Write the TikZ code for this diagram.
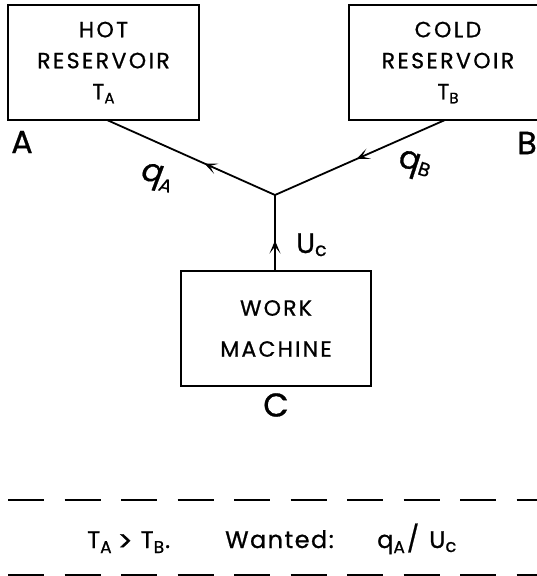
\documentclass[tikz,border=0pt]{standalone}
\usepackage{fontspec}
\setmainfont{Poppins}[FakeBold=0.8]
\usetikzlibrary{arrows.meta,decorations.markings}
\tikzset{
  boxnode/.style={draw,line width=1.8pt,minimum height=115pt,inner sep=0pt,align=center,font=\fontsize{22}{31}\selectfont\addfontfeatures{LetterSpace=11}},
  flow/.style={line width=1.8pt},
  midarrow/.style={postaction={decorate},decoration={markings,mark=at position #1 with {\arrow{Stealth[length=13pt,width=11pt,inset=7pt]}}}},
  biglabel/.style={font=\fontsize{32}{34}\selectfont,inner sep=0pt},
  qlabel/.style={font=\fontsize{32}{34}\selectfont,inner sep=0pt},
  eqtext/.style={font=\fontsize{24}{26}\selectfont\addfontfeatures{LetterSpace=6},inner sep=0pt,anchor=base west},
  sep/.style={line width=2pt,dash pattern=on 36pt off 20.5pt}
}
\begin{document}
\begin{tikzpicture}[x=1pt,y=-1pt]
\useasboundingbox (0,0) rectangle (537,576);
\node[boxnode,minimum width=191pt] (hot) at (103.5,62.5) {HOT\\RESERVOIR\\T\raisebox{-4pt}{\fontsize{15}{15}\selectfont A}};
\node[boxnode,minimum width=198pt,text width=198pt] (cold) at (448,62.5) {COLD\\RESERVOIR\\T\raisebox{-4pt}{\fontsize{15}{15}\selectfont B}};
\node[boxnode,minimum width=190pt,font=\fontsize{22}{41}\selectfont\addfontfeatures{LetterSpace=10}] (work) at (276,328.5) {WORK\\MACHINE};
\coordinate (j) at (275,195);
\coordinate (ha) at (107,120);
\coordinate (cb) at (445,120);
\coordinate (wt) at (275,271);
\draw[flow,midarrow=0.42] (j) -- (ha);
\draw[flow,midarrow=0.52] (cb) -- (j);
\draw[flow,midarrow=0.40] (wt) -- (j);
\node[biglabel] (la) at (22,142) {A};
\node[biglabel] (lb) at (527,143) {B};
\node[biglabel,font=\fontsize{33}{35}\selectfont] (lc) at (276,405) {C};
\node[qlabel,rotate=-12,xslant=0.15] (qa) at (157,178) {q\raisebox{-7pt}{\fontsize{18}{18}\selectfont A}};
\node[qlabel,rotate=-18] (qb) at (414,166) {q\raisebox{-2pt}{\fontsize{19}{19}\selectfont B}};
\node[font=\fontsize{28}{30}\selectfont,inner sep=0pt,anchor=base west] (uc) at (296,253) {U\raisebox{-3pt}{\fontsize{19}{19}\selectfont c}};
\coordinate (d1a) at (8,500);
\coordinate (d1b) at (540,500);
\coordinate (d2a) at (8,575);
\coordinate (d2b) at (540,575);
\draw[sep] (d1a) -- (d1b);
\draw[sep] (d2a) -- (d2b);
\node[eqtext] (t1) at (87,548) {T\raisebox{-5pt}{\fontsize{17}{17}\selectfont A}\hspace{6pt}\raisebox{-3pt}{\fontsize{28}{28}\selectfont >}\hspace{8pt}T\raisebox{-5pt}{\fontsize{17}{17}\selectfont B}\hspace{1pt}.};
\node[eqtext] (t2) at (225,548) {Wanted:};
\node[eqtext] (t3) at (377,548) {q\raisebox{-5pt}{\fontsize{17}{17}\selectfont A}\hspace{2pt}{\fontsize{26}{26}\selectfont /}\hspace{10pt}U\raisebox{-4pt}{\fontsize{18}{18}\selectfont c}};
\end{tikzpicture}
\end{document}
